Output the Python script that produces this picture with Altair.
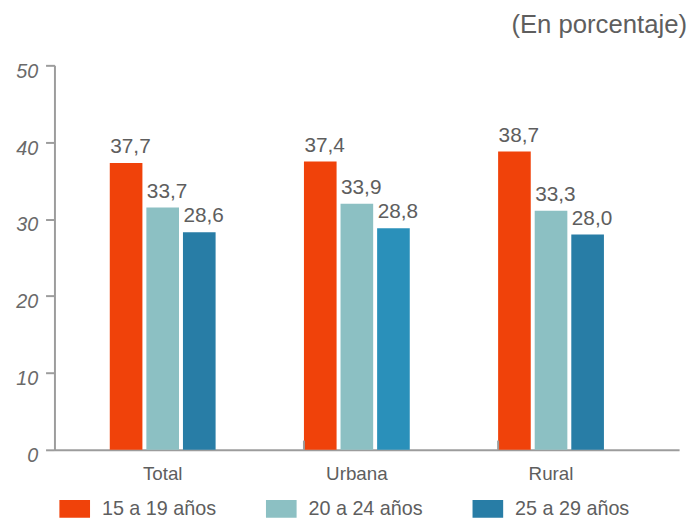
import altair as alt
import pandas as pd

categorias = ["Total", "Urbana", "Rural"]
series = ["15 a 19 años", "20 a 24 años", "25 a 29 años"]
# bar heights as drawn in the picture
alturas_15_19 = [37.3, 37.5, 38.8]
alturas_20_24 = [31.5, 32.0, 31.1]
alturas_25_29 = [28.3, 28.8, 28.0]
# printed labels
etiquetas_15_19 = ["37,7", "37,4", "38,7"]
etiquetas_20_24 = ["33,7", "33,9", "33,3"]
etiquetas_25_29 = ["28,6", "28,8", "28,0"]
y_ticks = [0, 10, 20, 30, 40, 50]
colores = ["#F0420A", "#8CC0C3", "#287DA6"]

rows = []
for s, alts, labs in zip(series, [alturas_15_19, alturas_20_24, alturas_25_29],
                         [etiquetas_15_19, etiquetas_20_24, etiquetas_25_29]):
    for c, v, l in zip(categorias, alts, labs):
        rows.append({"cat": c, "serie": s, "valor": v, "etiqueta": l})
df = pd.DataFrame(rows)
ticks_df = pd.DataFrame({"cat": categorias[1:]})

FONT = "Liberation Sans"
GRAY = "#9C9C9C"
TXT = "#5E5E5E"

x = alt.X("cat:N", scale=alt.Scale(domain=categorias, paddingInner=0.455,
                                    paddingOuter=0.336, align=0.424),
          axis=alt.Axis(title=None, labelAngle=0, ticks=False, labelFontSize=19,
                        labelFont=FONT, labelColor=TXT,
                        labelPadding=15, domainColor=GRAY, domainWidth=2))
y = alt.Y("valor:Q", scale=alt.Scale(domain=[0, 50], nice=False),
          axis=alt.Axis(title=None, values=y_ticks, grid=False, labelFontSize=20,
                        labelFont=FONT, labelFontStyle="italic",
                        labelColor="#6A6A6A", labelPadding=8, labelOffset=6,
                        tickSize=9, tickColor=GRAY, tickWidth=2,
                        domainColor=GRAY, domainWidth=2))
xoff = alt.XOffset("serie:N", scale=alt.Scale(domain=series, paddingInner=0.108))

color = alt.condition(
    (alt.datum.cat == "Urbana") & (alt.datum.serie == "25 a 29 años"),
    alt.value("#2A90BA"),
    alt.Color("serie:N", scale=alt.Scale(domain=series, range=colores),
              legend=alt.Legend(title=None, orient="none", legendX=5, legendY=433,
                                direction="horizontal",
                                symbolType="M-1,-0.58H1V0.58H-1Z", symbolSize=961,
                                symbolStrokeWidth=0, symbolOpacity=1,
                                labelFontSize=20, labelFont=FONT,
                                labelColor=TXT, labelOffset=12, labelLimit=200,
                                columnPadding=50, padding=0)),
)

bars = alt.Chart(df).mark_bar().encode(x=x, y=y, xOffset=xoff, fill=color)

texts = alt.Chart(df).mark_text(align="left", baseline="alphabetic", dx=-16, dy=-10,
                                fontSize=21, font=FONT, color=TXT).encode(
    x=alt.X("cat:N"), y=alt.Y("valor:Q"), xOffset=xoff, text="etiqueta:N")

ticks = alt.Chart(ticks_df).mark_rule(color=GRAY, strokeWidth=2).encode(
    x=alt.X("cat:N", bandPosition=0), y=alt.datum(0), y2=alt.datum(1.2))

chart = alt.layer(bars, texts, ticks).properties(
    width=632, height=389,
    title=alt.Title("(En porcentaje)", anchor="end", orient="top", frame="group",
                    fontSize=26, font=FONT, fontWeight="normal", color=TXT,
                    offset=24, dx=8),
    autosize=alt.AutoSizeParams(type="none"),
    padding={"left": 47, "top": 55, "right": 8, "bottom": 68},
).configure_view(stroke=None)

chart.save("out.html", embed_options={"renderer": "svg", "actions": False})
